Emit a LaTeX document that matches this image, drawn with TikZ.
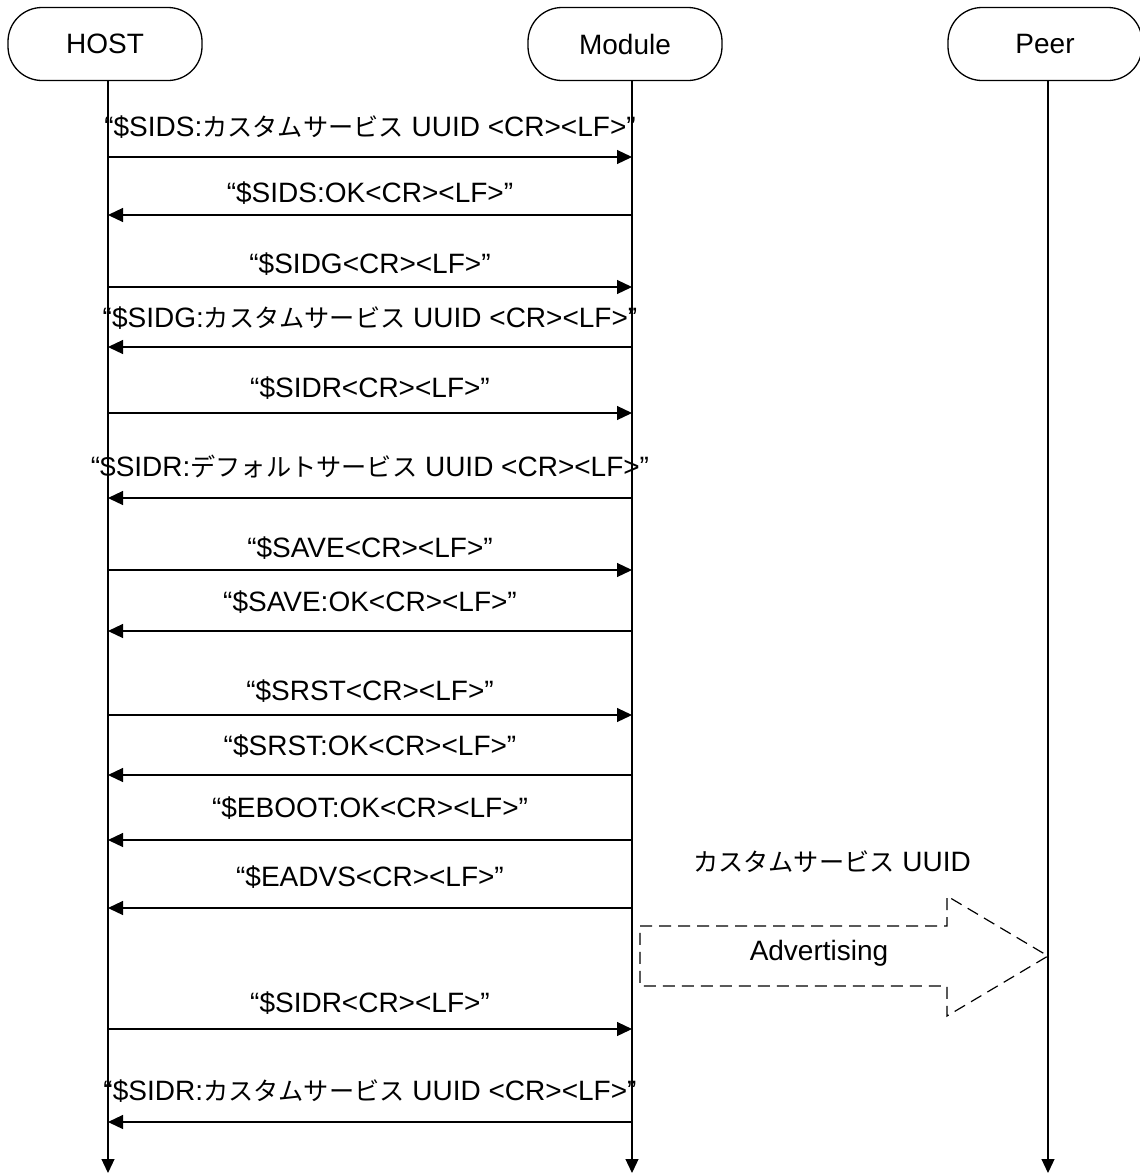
\documentclass[tikz,border=0pt]{standalone}
\usepackage{fontspec}
\setmainfont{Liberation Sans}
\newfontfamily\jpfont[Scale=0.9]{Noto Sans CJK JP}
\newcommand{\jp}[1]{{\jpfont #1}}
\usetikzlibrary{arrows.meta}
\tikzset{
    head/.style={rectangle, rounded corners=17pt, draw, line width=0.65pt,
        minimum width=97pt, minimum height=36.5pt,
        font=\fontsize{14}{16}\selectfont},
    life/.style={-{Triangle[length=7pt,width=6.5pt]}, line width=0.6pt},
    msg/.style={-{Triangle[length=7.5pt,width=7pt]}, line width=0.6pt},
    lbl/.style={font=\fontsize{14}{16}\selectfont, inner sep=0pt},
    adv/.style={draw, line width=0.6pt, dash pattern=on 6pt off 3.5pt}
}

\begin{document}
\begin{tikzpicture}[x=0.5pt,y=-0.5pt]
        \useasboundingbox (0,0) rectangle (1140,1173);
        \node[head] (host) at (105,44) {HOST};
        \node[head] (module) at (625,44) {Module};
        \node[head] (peer) at (1045,44) {Peer};
        \coordinate (hostend) at (108,1173);
        \coordinate (moduleend) at (632,1173);
        \coordinate (peerend) at (1048,1173);
        \draw[life] (hostend |- host.south) -- (hostend);
        \draw[life] (moduleend |- module.south) -- (moduleend);
        \draw[life] (peerend |- peer.south) -- (peerend);
        \draw[msg] (hostend |- 0,157) -- node[lbl,yshift=15pt]{“\$SIDS:\jp{カスタムサービス} UUID <CR><LF>”} (moduleend |- 0,157);
        \draw[msg] (moduleend |- 0,215) -- node[lbl,yshift=11pt]{“\$SIDS:OK<CR><LF>”} (hostend |- 0,215);
        \draw[msg] (hostend |- 0,287) -- node[lbl,yshift=11.5pt]{“\$SIDG<CR><LF>”} (moduleend |- 0,287);
        \draw[msg] (moduleend |- 0,347) -- node[lbl,yshift=14.5pt]{“\$SIDG:\jp{カスタムサービス} UUID <CR><LF>”} (hostend |- 0,347);
        \draw[msg] (hostend |- 0,413) -- node[lbl,yshift=12.5pt]{“\$SIDR<CR><LF>”} (moduleend |- 0,413);
        \draw[msg] (moduleend |- 0,498) -- node[lbl,yshift=15.5pt]{“\$SIDR:\jp{デフォルトサービス} UUID <CR><LF>”} (hostend |- 0,498);
        \draw[msg] (hostend |- 0,570) -- node[lbl,yshift=11pt]{“\$SAVE<CR><LF>”} (moduleend |- 0,570);
        \draw[msg] (moduleend |- 0,631) -- node[lbl,yshift=14.5pt]{“\$SAVE:OK<CR><LF>”} (hostend |- 0,631);
        \draw[msg] (hostend |- 0,715) -- node[lbl,yshift=12pt]{“\$SRST<CR><LF>”} (moduleend |- 0,715);
        \draw[msg] (moduleend |- 0,775) -- node[lbl,yshift=14.5pt]{“\$SRST:OK<CR><LF>”} (hostend |- 0,775);
        \draw[msg] (moduleend |- 0,840) -- node[lbl,yshift=16pt]{“\$EBOOT:OK<CR><LF>”} (hostend |- 0,840);
        \draw[msg] (moduleend |- 0,908) -- node[lbl,yshift=15.5pt]{“\$EADVS<CR><LF>”} (hostend |- 0,908);
        \draw[msg] (hostend |- 0,1029) -- node[lbl,yshift=13pt]{“\$SIDR<CR><LF>”} (moduleend |- 0,1029);
        \draw[msg] (moduleend |- 0,1122) -- node[lbl,yshift=15.5pt]{“\$SIDR:\jp{カスタムサービス} UUID <CR><LF>”} (hostend |- 0,1122);
        % advertising block arrow
        \draw[adv] (640,926) -- (947,926) -- (947,896) -- (1048,956)
            -- (947,1016) -- (947,986) -- (640,986) -- cycle;
        \node[lbl] (advtext) at (819,953) {Advertising};
        \node[lbl] (uuid) at (832,862) {\jp{カスタムサービス} UUID};
    \end{tikzpicture}
\end{document}
